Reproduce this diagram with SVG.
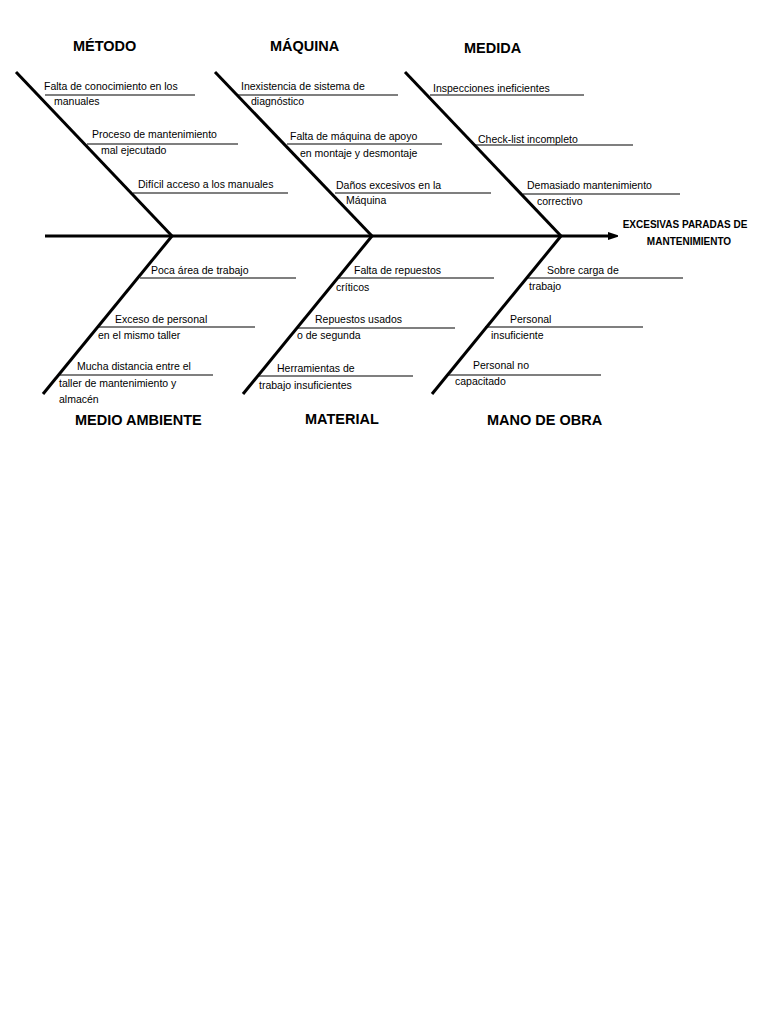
<svg xmlns="http://www.w3.org/2000/svg" width="768" height="1024" viewBox="0 0 768 1024">
<style>
.b{stroke:#000;stroke-width:3;fill:none}
.s{stroke:#000;stroke-width:1.2}
text{font-family:"Liberation Sans",Arial,sans-serif;fill:#000}
.t{font-size:10.5px}
.h{font-size:14.5px;font-weight:bold}
.e{font-size:10px;font-weight:bold}
</style>
<rect width="768" height="1024" fill="#fff"/>
<defs><marker id="ah" markerWidth="10" markerHeight="8" refX="0" refY="4" orient="auto" markerUnits="userSpaceOnUse"><path d="M0,0L12,4L0,8z" fill="#000"/></marker></defs>
<g id="connectors">
<line class="b" x1="45" y1="236" x2="608" y2="236" marker-end="url(#ah)"/>
<line class="b" x1="16" y1="72" x2="172" y2="236"/>
<line class="b" x1="215" y1="72" x2="372" y2="236"/>
<line class="b" x1="405" y1="72" x2="561" y2="236"/>
<line class="b" x1="172" y1="236" x2="43" y2="394"/>
<line class="b" x1="372" y1="236" x2="243" y2="394"/>
<line class="b" x1="561" y1="236" x2="432" y2="394"/>
<line class="s" x1="45" y1="95" x2="195" y2="95"/>
<line class="s" x1="87" y1="144" x2="238" y2="144"/>
<line class="s" x1="133" y1="193" x2="288" y2="193"/>
<line class="s" x1="238" y1="95" x2="398" y2="95"/>
<line class="s" x1="287" y1="144" x2="442" y2="144"/>
<line class="s" x1="335" y1="193" x2="491" y2="193"/>
<line class="s" x1="430" y1="95" x2="584" y2="95"/>
<line class="s" x1="475" y1="145" x2="633" y2="145"/>
<line class="s" x1="523" y1="194" x2="680" y2="194"/>
<line class="s" x1="140" y1="278" x2="296" y2="278"/>
<line class="s" x1="97" y1="327" x2="255" y2="327"/>
<line class="s" x1="60" y1="375" x2="213" y2="375"/>
<line class="s" x1="338" y1="278" x2="494" y2="278"/>
<line class="s" x1="298" y1="328" x2="455" y2="328"/>
<line class="s" x1="258" y1="376" x2="413" y2="376"/>
<line class="s" x1="527" y1="278" x2="683" y2="278"/>
<line class="s" x1="485" y1="327" x2="643" y2="327"/>
<line class="s" x1="447" y1="375" x2="601" y2="375"/>
</g>
<g id="metodo">
<text class="h" x="73" y="51">MÉTODO</text>
<text class="t" x="44" y="90">Falta de conocimiento en los</text>
<text class="t" x="54" y="105">manuales</text>
<text class="t" x="92" y="138">Proceso de mantenimiento</text>
<text class="t" x="101" y="154">mal ejecutado</text>
<text class="t" x="138" y="188">Difícil acceso a los manuales</text>
</g>
<g id="maquina">
<text class="h" x="270" y="51">MÁQUINA</text>
<text class="t" x="241" y="90">Inexistencia de sistema de</text>
<text class="t" x="251" y="105">diagnóstico</text>
<text class="t" x="290" y="140">Falta de máquina de apoyo</text>
<text class="t" x="300" y="157">en montaje y desmontaje</text>
<text class="t" x="336" y="189">Daños excesivos en la</text>
<text class="t" x="346" y="204">Máquina</text>
</g>
<g id="medida">
<text class="h" x="464" y="53">MEDIDA</text>
<text class="t" x="433" y="92">Inspecciones ineficientes</text>
<text class="t" x="478" y="143">Check-list incompleto</text>
<text class="t" x="527" y="189">Demasiado mantenimiento</text>
<text class="t" x="537" y="205">correctivo</text>
</g>
<g id="efecto">
<text class="e" x="685" y="228" text-anchor="middle">EXCESIVAS PARADAS DE</text>
<text class="e" x="689" y="245" text-anchor="middle">MANTENIMIENTO</text>
</g>
<g id="medio">
<text class="t" x="151" y="274">Poca área de trabajo</text>
<text class="t" x="115" y="323">Exceso de personal</text>
<text class="t" x="98" y="339">en el mismo taller</text>
<text class="t" x="77" y="370">Mucha distancia entre el</text>
<text class="t" x="59" y="387">taller de mantenimiento y</text>
<text class="t" x="59" y="403">almacén</text>
<text class="h" x="75" y="425">MEDIO AMBIENTE</text>
</g>
<g id="material">
<text class="t" x="354" y="274">Falta de repuestos</text>
<text class="t" x="336" y="291">críticos</text>
<text class="t" x="315" y="323">Repuestos usados</text>
<text class="t" x="297" y="339">o de segunda</text>
<text class="t" x="277" y="372">Herramientas de</text>
<text class="t" x="259" y="389">trabajo insuficientes</text>
<text class="h" x="305" y="424">MATERIAL</text>
</g>
<g id="mano">
<text class="t" x="547" y="274">Sobre carga de</text>
<text class="t" x="529" y="290">trabajo</text>
<text class="t" x="510" y="323">Personal</text>
<text class="t" x="491" y="339">insuficiente</text>
<text class="t" x="473" y="369">Personal no</text>
<text class="t" x="455" y="385">capacitado</text>
<text class="h" x="487" y="425">MANO DE OBRA</text>
</g>
</svg>
